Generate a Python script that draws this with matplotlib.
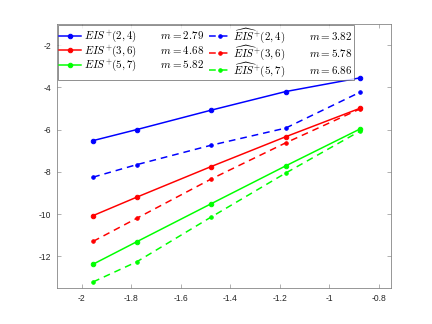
import numpy as np
import matplotlib
matplotlib.use("Agg")
import matplotlib.pyplot as plt

plt.rcParams['mathtext.fontset'] = 'cm'
plt.rcParams['font.family'] = ['Liberation Sans', 'DejaVu Sans']

# data
logh = [-1.954, -1.778, -1.477, -1.176, -0.875]
eis_24 = [-6.52, -6.00, -5.08, -4.20, -3.55]
eis_36 = [-10.07, -9.20, -7.75, -6.34, -4.99]
eis_57 = [-12.37, -11.31, -9.51, -7.72, -5.97]
heis_24 = [-8.25, -7.66, -6.74, -5.93, -4.23]
heis_36 = [-11.29, -10.20, -8.34, -6.63, -5.02]
heis_57 = [-13.21, -12.26, -10.14, -8.06, -6.07]
slopes = ['2.79', '4.68', '5.82', '3.82', '5.78', '6.86']
pairs = ['(2,4)', '(3,6)', '(5,7)']

fig = plt.figure(figsize=(6, 4.5), dpi=72)
ax = fig.add_axes([0.132, 0.111, 0.773, 0.815])

colors = ['#0000ff', '#ff0000', '#00ff00']
solid = [eis_24, eis_36, eis_57]
dashed = [heis_24, heis_36, heis_57]
handles = []
for i in range(3):
    h, = ax.plot(logh, solid[i], '-', color=colors[i], lw=1.5, marker='o', ms=4.5,
                 label=r'$EIS^{+}%s\qquad\;\; m = %s$' % (pairs[i], slopes[i]))
    handles.append(h)
for i in range(3):
    h, = ax.plot(logh, dashed[i], '--', color=colors[i], lw=1.5, marker='o', ms=3.5,
                 dashes=(4.5, 3.3),
                 label=r'$\widehat{EIS}^{+}%s\qquad\;\; m = %s$' % (pairs[i], slopes[i + 3]))
    handles.append(h)

ax.set_xlim(-2.1, -0.75)
ax.set_ylim(-13.5, -1)
ax.set_xticks([-2, -1.8, -1.6, -1.4, -1.2, -1, -0.8])
ax.set_xticklabels(['-2', '-1.8', '-1.6', '-1.4', '-1.2', '-1', '-0.8'])
ax.set_yticks([-12, -10, -8, -6, -4, -2])
ax.set_yticklabels(['-12', '-10', '-8', '-6', '-4', '-2'])
ax.tick_params(direction='in', length=4, width=0.6, top=True, right=True,
               labelsize=8.5, colors='#262626', pad=6)
for s in ax.spines.values():
    s.set_color('#808080')
    s.set_linewidth(0.8)
ax.tick_params(color='#808080')

leg = ax.legend(handles=handles, loc='upper left', ncol=2, fontsize=11,
                frameon=True, fancybox=False, edgecolor='#555555',
                borderpad=0.15, labelspacing=-0.15, columnspacing=0.4,
                handlelength=2.0, handletextpad=0.25, borderaxespad=0.05)
leg.get_frame().set_linewidth(0.8)

fig.savefig('out.png', dpi=72)
